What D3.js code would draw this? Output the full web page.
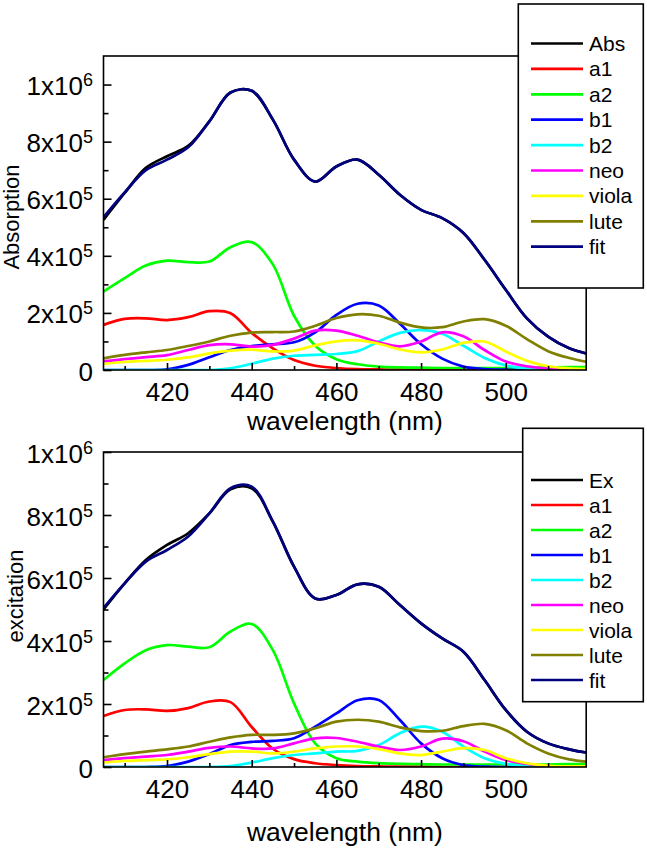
<!DOCTYPE html>
<html><head><meta charset="utf-8">
<script src="https://cdn.jsdelivr.net/npm/d3@7"></script>
<style>
html,body{margin:0;padding:0;background:#fff;}
svg text{font-family:"Liberation Sans",Arial,sans-serif;fill:#000;}
</style></head>
<body>
<svg id="chart" width="647" height="853"></svg>
<script>
// ---------- data (values in units of 1e5) ----------
const wavelengths = [405,410,415,420,425,430,435,440,445,450,455,460,465,470,475,480,485,490,495,500,505,510,515,519];

// top panel: absorption
const topAbs   = [5.26,6.20,7.08,7.49,7.85,8.71,9.72,9.78,8.77,7.37,6.60,7.13,7.37,6.84,6.14,5.61,5.32,4.80,3.86,2.81,1.81,1.17,0.76,0.58];
const topFit   = [5.35,6.22,7.00,7.37,7.80,8.71,9.72,9.78,8.77,7.37,6.60,7.13,7.37,6.84,6.14,5.61,5.32,4.80,3.86,2.81,1.81,1.17,0.76,0.58];
const topA1    = [1.58,1.79,1.81,1.75,1.85,2.06,1.99,1.30,0.76,0.35,0.15,0.07,0.03,0.02,0.01,0.01,0.01,0,0,0,0,0,0,0];
const topA2    = [2.75,3.22,3.66,3.83,3.78,3.80,4.30,4.48,3.70,1.90,0.85,0.38,0.20,0.12,0.09,0.08,0.07,0.07,0.07,0.07,0.08,0.09,0.10,0.10];
const topB1    = [0,0,0,0.02,0.18,0.45,0.70,0.84,0.90,0.97,1.32,1.93,2.32,2.26,1.62,0.90,0.40,0.12,0.03,0.01,0,0,0,0];
const topB2    = [0,0,0,0,0,0,0.06,0.22,0.40,0.50,0.53,0.56,0.66,1.00,1.30,1.40,1.27,0.85,0.42,0.16,0.05,0.02,0.01,0];
const topNeo   = [0.30,0.38,0.45,0.52,0.70,0.87,0.90,0.82,0.88,1.10,1.38,1.38,1.20,0.97,0.83,1.00,1.32,1.18,0.70,0.30,0.13,0.05,0.02,0.01];
const topViola = [0.21,0.28,0.32,0.36,0.44,0.58,0.68,0.71,0.65,0.68,0.86,1.00,1.04,0.92,0.72,0.62,0.72,0.95,1.00,0.65,0.32,0.13,0.06,0.04];
const topLute  = [0.41,0.53,0.62,0.70,0.84,1.00,1.20,1.31,1.33,1.35,1.55,1.82,1.95,1.90,1.66,1.49,1.50,1.70,1.78,1.55,1.08,0.66,0.42,0.29];

// bottom panel: excitation
const botEx    = [5.00,5.83,6.57,7.05,7.42,8.05,8.82,8.85,7.79,6.36,5.35,5.46,5.80,5.72,5.14,4.56,4.08,3.66,2.76,1.81,1.12,0.75,0.56,0.46];
const botFit   = [5.05,5.83,6.52,6.89,7.32,8.05,8.85,8.90,7.79,6.36,5.35,5.46,5.80,5.72,5.14,4.56,4.08,3.66,2.76,1.81,1.12,0.75,0.56,0.46];
const botA1    = [1.62,1.81,1.83,1.78,1.87,2.08,2.06,1.27,0.58,0.25,0.12,0.06,0.03,0.02,0.01,0.01,0,0,0,0,0,0,0,0];
const botA2    = [2.76,3.29,3.71,3.87,3.82,3.80,4.30,4.54,3.71,2.02,0.75,0.28,0.17,0.12,0.10,0.09,0.08,0.08,0.08,0.08,0.08,0.08,0.09,0.09];
const botB1    = [0,0,0,0.03,0.17,0.41,0.70,0.80,0.83,0.91,1.28,1.70,2.12,2.13,1.49,0.75,0.28,0.06,0.01,0,0,0,0,0];
const botB2    = [0,0,0,0,0,0,0.03,0.14,0.28,0.38,0.43,0.49,0.51,0.70,1.07,1.28,1.12,0.65,0.28,0.10,0.03,0.01,0,0];
const botNeo   = [0.22,0.28,0.33,0.38,0.49,0.61,0.65,0.59,0.59,0.75,0.91,0.92,0.80,0.65,0.54,0.65,0.90,0.82,0.49,0.22,0.10,0.03,0.01,0];
const botViola = [0.14,0.19,0.22,0.24,0.31,0.41,0.49,0.49,0.43,0.49,0.59,0.65,0.65,0.57,0.43,0.38,0.49,0.60,0.54,0.28,0.12,0.04,0.02,0.02];
const botLute  = [0.31,0.41,0.49,0.56,0.65,0.80,0.94,1.02,1.02,1.07,1.23,1.44,1.50,1.44,1.26,1.14,1.15,1.30,1.37,1.17,0.75,0.43,0.24,0.17];

const xMajorTicks = [420,440,460,480,500];
const xMinorTicks = [410,430,450,470,490,510];
const topYTicks = [0,2e5,4e5,6e5,8e5,1e6];
const botYTicks = [0,2e5,4e5,6e5,8e5,1e6];
const yMinorTicks = [1e5,3e5,5e5,7e5,9e5];
const topNames = ["Abs","a1","a2","b1","b2","neo","viola","lute","fit"];
const botNames = ["Ex","a1","a2","b1","b2","neo","viola","lute","fit"];
const colors = ["#000000","#ff0000","#00ff00","#0000ff","#00ffff","#ff00ff","#ffff00","#808000","#000080"];

// ---------- drawing ----------
const svg = d3.select("#chart");
const SCALE = 1e5;

function panel(cfg){
  const x = d3.scaleLinear().domain([405,519]).range([103.5,586.2]);
  const y = d3.scaleLinear().domain([0,cfg.ymax]).range([cfg.bottom,cfg.top]);
  const g = svg.append("g");
  const clipId = "clip"+cfg.id;
  svg.append("clipPath").attr("id",clipId).append("rect")
    .attr("x",x.range()[0]).attr("y",cfg.top).attr("width",x.range()[1]-x.range()[0]).attr("height",cfg.bottom-cfg.top);

  const line = d3.line().x(d=>x(d[0])).y(d=>y(d[1]*SCALE)).curve(d3.curveCatmullRom.alpha(0.5));
  const lg = g.append("g").attr("clip-path","url(#"+clipId+")");
  const order = [1,2,3,4,5,6,7,0,8];
  order.forEach(i=>{
    lg.append("path").datum(wavelengths.map((w,k)=>[w,cfg.series[i][k]]))
      .attr("d",line).attr("fill","none").attr("stroke",colors[i])
      .attr("stroke-width",2.7).attr("stroke-linejoin","round");
  });

  g.append("rect").attr("x",x.range()[0]).attr("y",cfg.top)
    .attr("width",x.range()[1]-x.range()[0]).attr("height",cfg.bottom-cfg.top)
    .attr("fill","none").attr("stroke","#000").attr("stroke-width",1.6);

  const xa = g.append("g").attr("transform",`translate(0,${cfg.bottom})`)
    .call(d3.axisBottom(x).tickValues(xMajorTicks).tickSize(-7).tickPadding(13).tickFormat(d3.format("d")));
  xa.select(".domain").remove();
  xa.selectAll(".tick line").attr("stroke-width",1.6);
  xa.selectAll("text").attr("font-size",26).attr("font-family","'Liberation Sans',Arial,sans-serif").attr("fill","#000");
  const xm = g.append("g").attr("transform",`translate(0,${cfg.bottom})`)
    .call(d3.axisBottom(x).tickValues(xMinorTicks).tickSize(-4).tickFormat(""));
  xm.select(".domain").remove();
  xm.selectAll(".tick line").attr("stroke-width",1.6);

  const ya = g.append("g").attr("transform",`translate(${x.range()[0]},0)`)
    .call(d3.axisLeft(y).tickValues(cfg.yTicks).tickSize(-8).tickFormat(""));
  ya.select(".domain").remove();
  ya.selectAll(".tick line").attr("stroke-width",1.6);
  const ym = g.append("g").attr("transform",`translate(${x.range()[0]},0)`)
    .call(d3.axisLeft(y).tickValues(yMinorTicks).tickSize(-5).tickFormat(""));
  ym.select(".domain").remove();
  ym.selectAll(".tick line").attr("stroke-width",1.6);

  cfg.yTicks.forEach(v=>{
    const t = g.append("text").attr("x",93).attr("y",y(v)+10.5).attr("text-anchor","end").attr("font-size",26);
    if(v===0){ t.text("0"); return; }
    const e = Math.floor(Math.log10(v)+1e-9);
    const m = Math.round(v/Math.pow(10,e));
    t.append("tspan").text(m+"x10");
    t.append("tspan").attr("font-size",18).attr("dy",-9).text(String(e));
  });

  g.append("text").attr("x",(x.range()[0]+x.range()[1])/2).attr("y",cfg.xTitleY)
    .attr("text-anchor","middle").attr("font-size",26.5).text("wavelength (nm)");
  g.append("text").attr("transform",`translate(${cfg.yTitleX},${cfg.yTitleCY}) rotate(-90)`)
    .attr("text-anchor","middle").attr("font-size",22).text(cfg.yTitle);

  const L = cfg.legend;
  const leg = g.append("g");
  leg.append("rect").attr("x",L.x0).attr("y",L.y0).attr("width",L.x1-L.x0).attr("height",L.y1-L.y0)
    .attr("fill","#fff").attr("stroke","#000").attr("stroke-width",1.6);
  cfg.names.forEach((n,i)=>{
    const yy = L.first + i*L.step;
    leg.append("line").attr("x1",531).attr("x2",583).attr("y1",yy).attr("y2",yy)
      .attr("stroke",colors[i]).attr("stroke-width",2.7);
    leg.append("text").attr("x",589).attr("y",yy+7.5).attr("font-size",21).text(n);
  });
}

panel({id:"t", ymax:11e5, top:56, bottom:370, yTicks:topYTicks,
  series:[topAbs,topA1,topA2,topB1,topB2,topNeo,topViola,topLute,topFit],
  names:topNames, xTitleY:430, yTitleX:19, yTitleCY:217, yTitle:"Absorption",
  legend:{x0:518.3,y0:4,x1:643.3,y1:288,first:43.5,step:25.4}});
panel({id:"b", ymax:10e5, top:452, bottom:767, yTicks:botYTicks,
  series:[botEx,botA1,botA2,botB1,botB2,botNeo,botViola,botLute,botFit],
  names:botNames, xTitleY:841, yTitleX:23, yTitleCY:596, yTitle:"excitation",
  legend:{x0:522.7,y0:428.3,x1:643.3,y1:701.7,first:480,step:25}});
</script>
</body></html>
